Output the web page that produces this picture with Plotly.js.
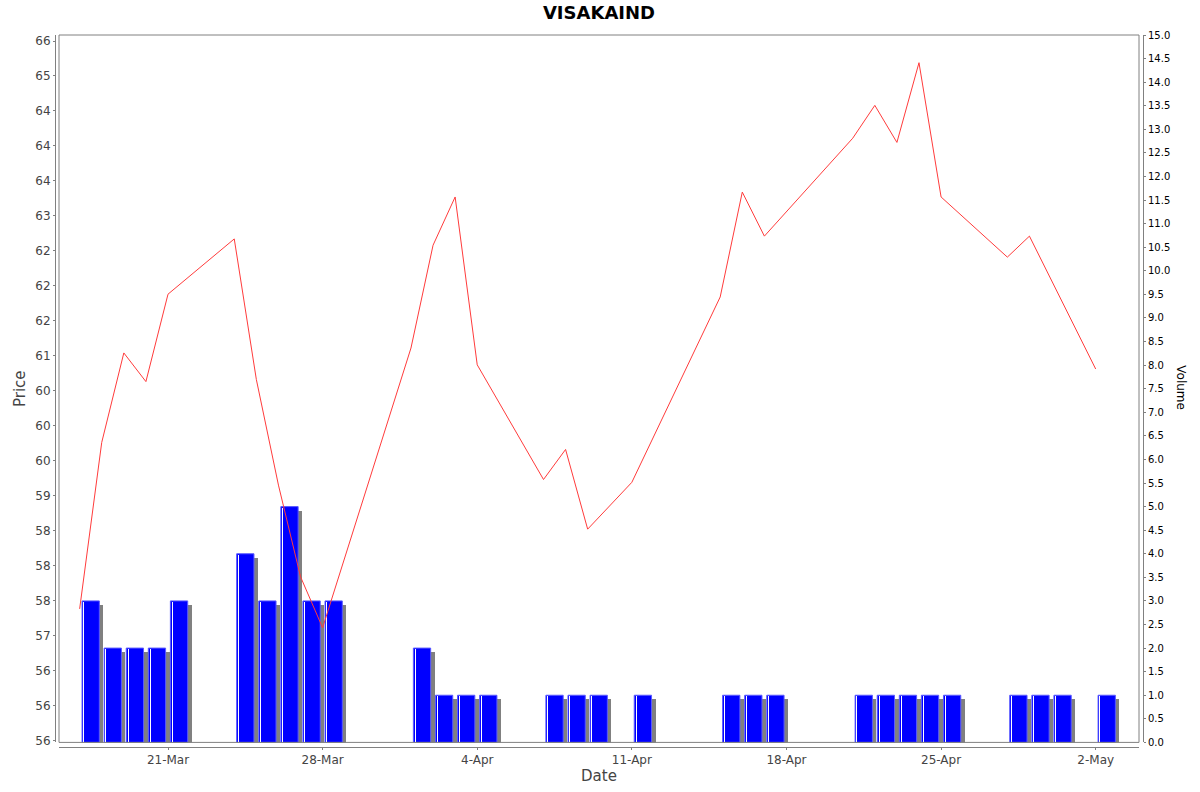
<!DOCTYPE html>
<html>
<head>
<meta charset="utf-8">
<script src="https://cdn.plot.ly/plotly-3.0.1.min.js"></script>
<style>
html, body { margin: 0; padding: 0; background: #fff; }
#chart { width: 1200px; height: 792px; }
</style>
</head>
<body>
<div id="chart"></div>
<script>
// trading days (30-Apr has a volume bar but no close)
const dates = [
    '2025-03-17', '2025-03-18', '2025-03-19', '2025-03-20', '2025-03-21',
    '2025-03-24', '2025-03-25', '2025-03-26', '2025-03-27', '2025-03-28',
    '2025-04-01', '2025-04-02', '2025-04-03', '2025-04-04',
    '2025-04-07', '2025-04-08', '2025-04-09', '2025-04-11',
    '2025-04-15', '2025-04-16', '2025-04-17',
    '2025-04-21', '2025-04-22', '2025-04-23', '2025-04-24', '2025-04-25',
    '2025-04-28', '2025-04-29', '2025-04-30',
    '2025-05-02'
];
const prices = [
    57.38, 59.76, 61.04, 60.63, 61.88,
    62.67, 60.66, 59.15, 57.84, 57.11,
    61.11, 62.58, 63.27, 60.87,
    59.23, 59.66, 58.52, 59.19,
    61.84, 63.34, 62.71,
    64.11, 64.58, 64.05, 65.19, 63.27,
    62.41, 62.71, null,
    60.81
];
const volumes = [
    3, 2, 2, 2, 3,
    4, 3, 5, 3, 3,
    2, 1, 1, 1,
    1, 1, 1, 1,
    1, 1, 1,
    1, 1, 1, 1, 1,
    1, 1, 1,
    1
];

const dateTicks = ['2025-03-21', '2025-03-28', '2025-04-04', '2025-04-11', '2025-04-18', '2025-04-25', '2025-05-02'];
const dateTickText = ['21-Mar', '28-Mar', '4-Apr', '11-Apr', '18-Apr', '25-Apr', '2-May'];
const priceTicks = [55.5, 56, 56.5, 57, 57.5, 58, 58.5, 59, 59.5, 60, 60.5,
    61, 61.5, 62, 62.5, 63, 63.5, 64, 64.5, 65, 65.5];
const priceTickText = ['56', '56', '56', '57', '58', '58', '58', '59', '60', '60', '60',
    '61', '62', '62', '62', '63', '64', '64', '64', '65', '66'];

// page geometry (px)
const M = { l: 55.3, r: 56.7, t: 34.7, b: 44.7 };
const AXIS_GAP = 4;
const paperW = 1200 - M.l - M.r;
const paperH = 792 - M.t - M.b;
const plotW = paperW - 2 * AXIS_GAP;

const X_START = '2025-03-16 01:34';
const X_END = '2025-05-03 23:03';
const msPerPx = (new Date(X_END.replace(' ', 'T')) - new Date(X_START.replace(' ', 'T'))) / plotW;
const volPerPx = 15 / (paperH - 4.6);

const DAY = 86400000;
const barW = 17.3 * msPerPx;

const FONT = 'DejaVu Sans, Verdana, sans-serif';

const shadow = {
    type: 'bar', x: dates, y: volumes,
    xperiod: DAY, xperiodalignment: 'middle',
    base: -4 * volPerPx,
    width: barW, offset: -barW / 2 + 4 * msPerPx,
    marker: { color: '#808080', line: { width: 0 } },
    hoverinfo: 'skip', yaxis: 'y'
};
const bars = {
    type: 'bar', x: dates, y: volumes,
    xperiod: DAY, xperiodalignment: 'middle',
    width: barW, offset: -barW / 2,
    marker: { color: '#0000ff', line: { color: '#5a5aff', width: 1 } },
    name: 'Volume', yaxis: 'y'
};
const stripe = {
    type: 'bar', x: dates, y: volumes,
    xperiod: DAY, xperiodalignment: 'middle',
    base: -1 * volPerPx,
    width: 1 * msPerPx, offset: -barW / 2 + 1.3 * msPerPx,
    marker: { color: '#ffffff', line: { width: 0 } },
    hoverinfo: 'skip', yaxis: 'y'
};
const priceLine = {
    type: 'scatter', mode: 'lines', x: dates, y: prices,
    connectgaps: true,
    line: { color: '#ff3b3b', width: 1 },
    name: 'Price', yaxis: 'y2'
};

const layout = {
    width: 1200, height: 792,
    margin: M,
    paper_bgcolor: '#ffffff', plot_bgcolor: '#ffffff',
    showlegend: false,
    barmode: 'overlay',
    bargap: 0,
    font: { family: FONT, color: '#444444' },
    title: {
        text: '<b>VISAKAIND</b>',
        font: { family: FONT, size: 18, color: '#000000' },
        x: 0.5, xref: 'paper', xanchor: 'center',
        y: 1 - 13 / 792, yref: 'container', yanchor: 'middle'
    },
    xaxis: {
        type: 'date',
        domain: [AXIS_GAP / paperW, 1 - AXIS_GAP / paperW],
        range: [X_START, X_END],
        anchor: 'free', position: 0,
        tickvals: dateTicks, ticktext: dateTickText,
        ticks: 'outside', ticklen: 2, tickcolor: '#808080',
        showline: true, linecolor: '#808080', linewidth: 1,
        showgrid: false, zeroline: false,
        tickfont: { family: FONT, size: 12, color: '#444444' },
        title: { text: 'Date', font: { family: FONT, size: 15, color: '#444444' }, standoff: 4 }
    },
    yaxis: {
        domain: [4.6 / paperH, 1],
        range: [0, 15],
        side: 'right', anchor: 'free', position: 1,
        dtick: 0.5, tick0: 0, tickformat: '.1f',
        ticks: 'outside', ticklen: 2, tickcolor: '#808080',
        showline: true, linecolor: '#808080', linewidth: 1,
        showgrid: false, zeroline: false,
        tickfont: { family: FONT, size: 10, color: '#000000' }
    },
    yaxis2: {
        overlaying: 'y',
        range: [55.471, 65.586],
        side: 'left', anchor: 'free', position: 0,
        tickvals: priceTicks, ticktext: priceTickText,
        ticks: 'outside', ticklen: 2, tickcolor: '#808080',
        showline: true, linecolor: '#808080', linewidth: 1,
        showgrid: false, zeroline: false,
        tickfont: { family: FONT, size: 12, color: '#444444' },
        title: { text: 'Price', font: { family: FONT, size: 15, color: '#444444' }, standoff: 5 }
    },
    shapes: [{
        type: 'rect', xref: 'x domain', yref: 'y domain',
        x0: 0, x1: 1, y0: 0, y1: 1,
        line: { color: '#808080', width: 1 }, fillcolor: 'rgba(0,0,0,0)',
        layer: 'above'
    }],
    annotations: [{
        text: 'Volume', textangle: 90,
        xref: 'paper', yref: 'paper',
        x: (1181 - M.l) / paperW, y: (792 - M.b - 388) / paperH,
        xanchor: 'center', yanchor: 'middle', showarrow: false,
        font: { family: FONT, size: 12, color: '#000000' }
    }]
};

Plotly.newPlot('chart', [shadow, bars, stripe, priceLine], layout, { staticPlot: true });
</script>
</body>
</html>
